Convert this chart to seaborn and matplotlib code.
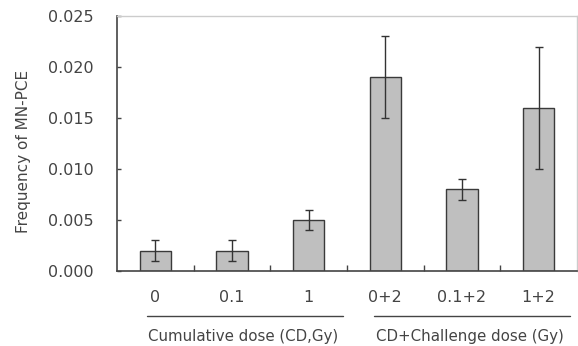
import matplotlib
matplotlib.use("Agg")
import matplotlib.pyplot as plt
import matplotlib.transforms as mtransforms
import seaborn as sns
import pandas as pd
import numpy as np

categories = ["0", "0.1", "1", "0+2", "0.1+2", "1+2"]
means = [0.002, 0.002, 0.005, 0.019, 0.008, 0.016]
errors = [0.001, 0.001, 0.001, 0.004, 0.001, 0.006]
yticks = [0.000, 0.005, 0.010, 0.015, 0.020, 0.025]
group_labels = ["Cumulative dose (CD,Gy)", "CD+Challenge dose (Gy)"]

sns.set_style("white")
plt.rcParams['font.family'] = ['DejaVu Sans']

df = pd.DataFrame({"dose": categories, "freq": means})

fig = plt.figure(figsize=(5.78, 3.46), dpi=100)
ax = fig.add_axes([117/578, 1-271/346, 460/578, 255/346])

sns.barplot(data=df, x="dose", y="freq", order=categories, ax=ax,
            color="#bfbfbf", edgecolor="#3a3a3a", linewidth=1.0,
            width=0.41, errorbar=None, saturation=1)
ax.errorbar(np.arange(len(categories)), means, yerr=errors, fmt="none",
            ecolor="#333333", elinewidth=1.0, capsize=3.2, capthick=1.0)

ax.set_xlim(-0.5, 5.5)
ax.set_ylim(0, 0.025)
ax.set_yticks(yticks)
ax.set_yticklabels([f"{v:.3f}" for v in yticks], color="#444444", fontsize=11.5)
ax.set_xticks(range(len(categories)))
ax.set_xticklabels(categories, color="#444444", fontsize=11.5)
ax.set_xticks(np.arange(0.5, 5.5, 1.0), minor=True)
ax.tick_params(axis="x", which="major", length=0, pad=14)
ax.tick_params(axis="x", which="minor", direction="in", length=4, width=1, color="#444444", bottom=True)
ax.tick_params(axis="y", which="major", direction="in", length=3, width=1, color="#444444", left=True, pad=17)
ax.set_xlabel("")
ax.set_ylabel("Frequency of MN-PCE", fontsize=11, color="#444444")
ax.yaxis.set_label_coords(-0.186, 0.467)

for side in ["left", "bottom"]:
    ax.spines[side].set_color("#444444")
    ax.spines[side].set_linewidth(1.2)
for side in ["top", "right"]:
    ax.spines[side].set_visible(True)
    ax.spines[side].set_color("#cccccc")
    ax.spines[side].set_linewidth(1.0)

trans = mtransforms.blended_transform_factory(ax.transData, ax.transAxes)
spans = [(-0.11, 2.45), (2.85, 5.41)]
for (x0, x1), lab in zip(spans, group_labels):
    ax.plot([x0, x1], [-0.176, -0.176], transform=trans, color="#444444",
            linewidth=1.0, clip_on=False)
    ax.text((x0 + x1) / 2 - 0.03, -0.257, lab, transform=trans, ha="center",
            va="center", fontsize=10.8, color="#444444")

fig.savefig("out.png", dpi=100)
